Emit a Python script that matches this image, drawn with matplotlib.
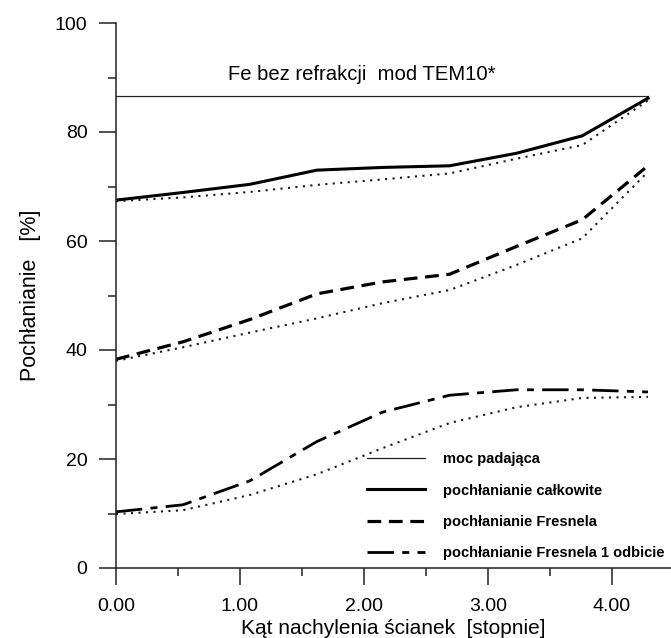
import matplotlib
matplotlib.use("Agg")
import matplotlib.pyplot as plt
from matplotlib.ticker import MultipleLocator, FormatStrFormatter

plt.rcParams['font.family'] = ['Liberation Sans', 'DejaVu Sans']

# wall tilt angle [degrees]
kat = [0.0, 0.54, 1.08, 1.62, 2.15, 2.69, 3.23, 3.76, 4.29]

moc_padajaca = 86.6
pochl_calkowite = [67.5, 68.9, 70.4, 73.0, 73.5, 73.8, 76.1, 79.3, 86.2]
pochl_calkowite_ref = [67.3, 68.0, 69.0, 70.3, 71.3, 72.4, 75.1, 77.6, 85.8]
pochl_fresnel = [38.3, 41.5, 45.6, 50.3, 52.5, 53.9, 59.0, 63.9, 73.8]
pochl_fresnel_ref = [38.0, 40.5, 43.2, 45.8, 48.6, 51.0, 55.6, 60.5, 72.7]
pochl_fresnel_1 = [10.3, 11.6, 16.0, 23.2, 28.6, 31.7, 32.7, 32.7, 32.3]
pochl_fresnel_1_ref = [9.9, 10.6, 13.4, 17.2, 22.0, 26.6, 29.5, 31.2, 31.4]

etykiety = ["moc padająca", "pochłanianie całkowite",
            "pochłanianie Fresnela", "pochłanianie Fresnela 1 odbicie"]

fig = plt.figure(figsize=(6.71, 6.38), dpi=100)
ax = fig.add_axes([116 / 671, 70 / 638, 555 / 671, 545 / 638])

ax.plot([kat[0], kat[-1]], [moc_padajaca, moc_padajaca], color='#222222', lw=0.9,
        label=etykiety[0])
ax.plot(kat, pochl_calkowite, color='black', lw=2.2, label=etykiety[1])
ax.plot(kat, pochl_fresnel, color='black', lw=2.3, dashes=(4.3, 2.4),
        label=etykiety[2])
ax.plot(kat, pochl_fresnel_1, color='black', lw=2.0, dashes=(9.5, 3.0, 2.5, 3.0),
        label=etykiety[3])

for ref in (pochl_calkowite_ref, pochl_fresnel_ref, pochl_fresnel_1_ref):
    ax.plot(kat, ref, color='#1a1a1a', lw=1.5, dashes=(1.0, 2.6),
            dash_capstyle='butt')

ax.set_xlim(0, 555 / 124)
ax.set_ylim(0, 100)

for side in ('top', 'right'):
    ax.spines[side].set_visible(False)
for side in ('left', 'bottom'):
    ax.spines[side].set_linewidth(1.1)
    ax.spines[side].set_color('#222222')
ax.spines['left'].set_bounds(0, 100)

ax.xaxis.set_major_locator(MultipleLocator(1.0))
ax.xaxis.set_minor_locator(MultipleLocator(0.5))
ax.yaxis.set_major_locator(MultipleLocator(20))
ax.yaxis.set_minor_locator(MultipleLocator(10))
ax.xaxis.set_major_formatter(FormatStrFormatter('%.2f'))

ax.tick_params(which='major', direction='out', length=12.5, width=1.1,
               color='#222222', labelsize=14, pad=8)
ax.tick_params(which='minor', direction='out', length=6, width=1.1,
               color='#222222')
ax.tick_params(axis='x', which='major', pad=9)

ax.set_xlabel("Kąt nachylenia ścianek  [stopnie]", fontsize=15, labelpad=3)
ax.set_ylabel("Pochłanianie   [%]", fontsize=15.5, labelpad=10)

ax.text(1.98, 90.6, "Fe bez refrakcji  mod TEM10*", fontsize=14.6,
        ha='center', va='center')

leg = ax.legend(loc='upper left',
                bbox_to_anchor=((367 - 116) / 555, (568 - 452) / 545),
                frameon=False, handlelength=4.0,
                handletextpad=1.2, labelspacing=1.2, borderpad=0,
                borderaxespad=0, prop={'weight': 'bold', 'size': 10.5})

fig.savefig("out.png", dpi=100)
